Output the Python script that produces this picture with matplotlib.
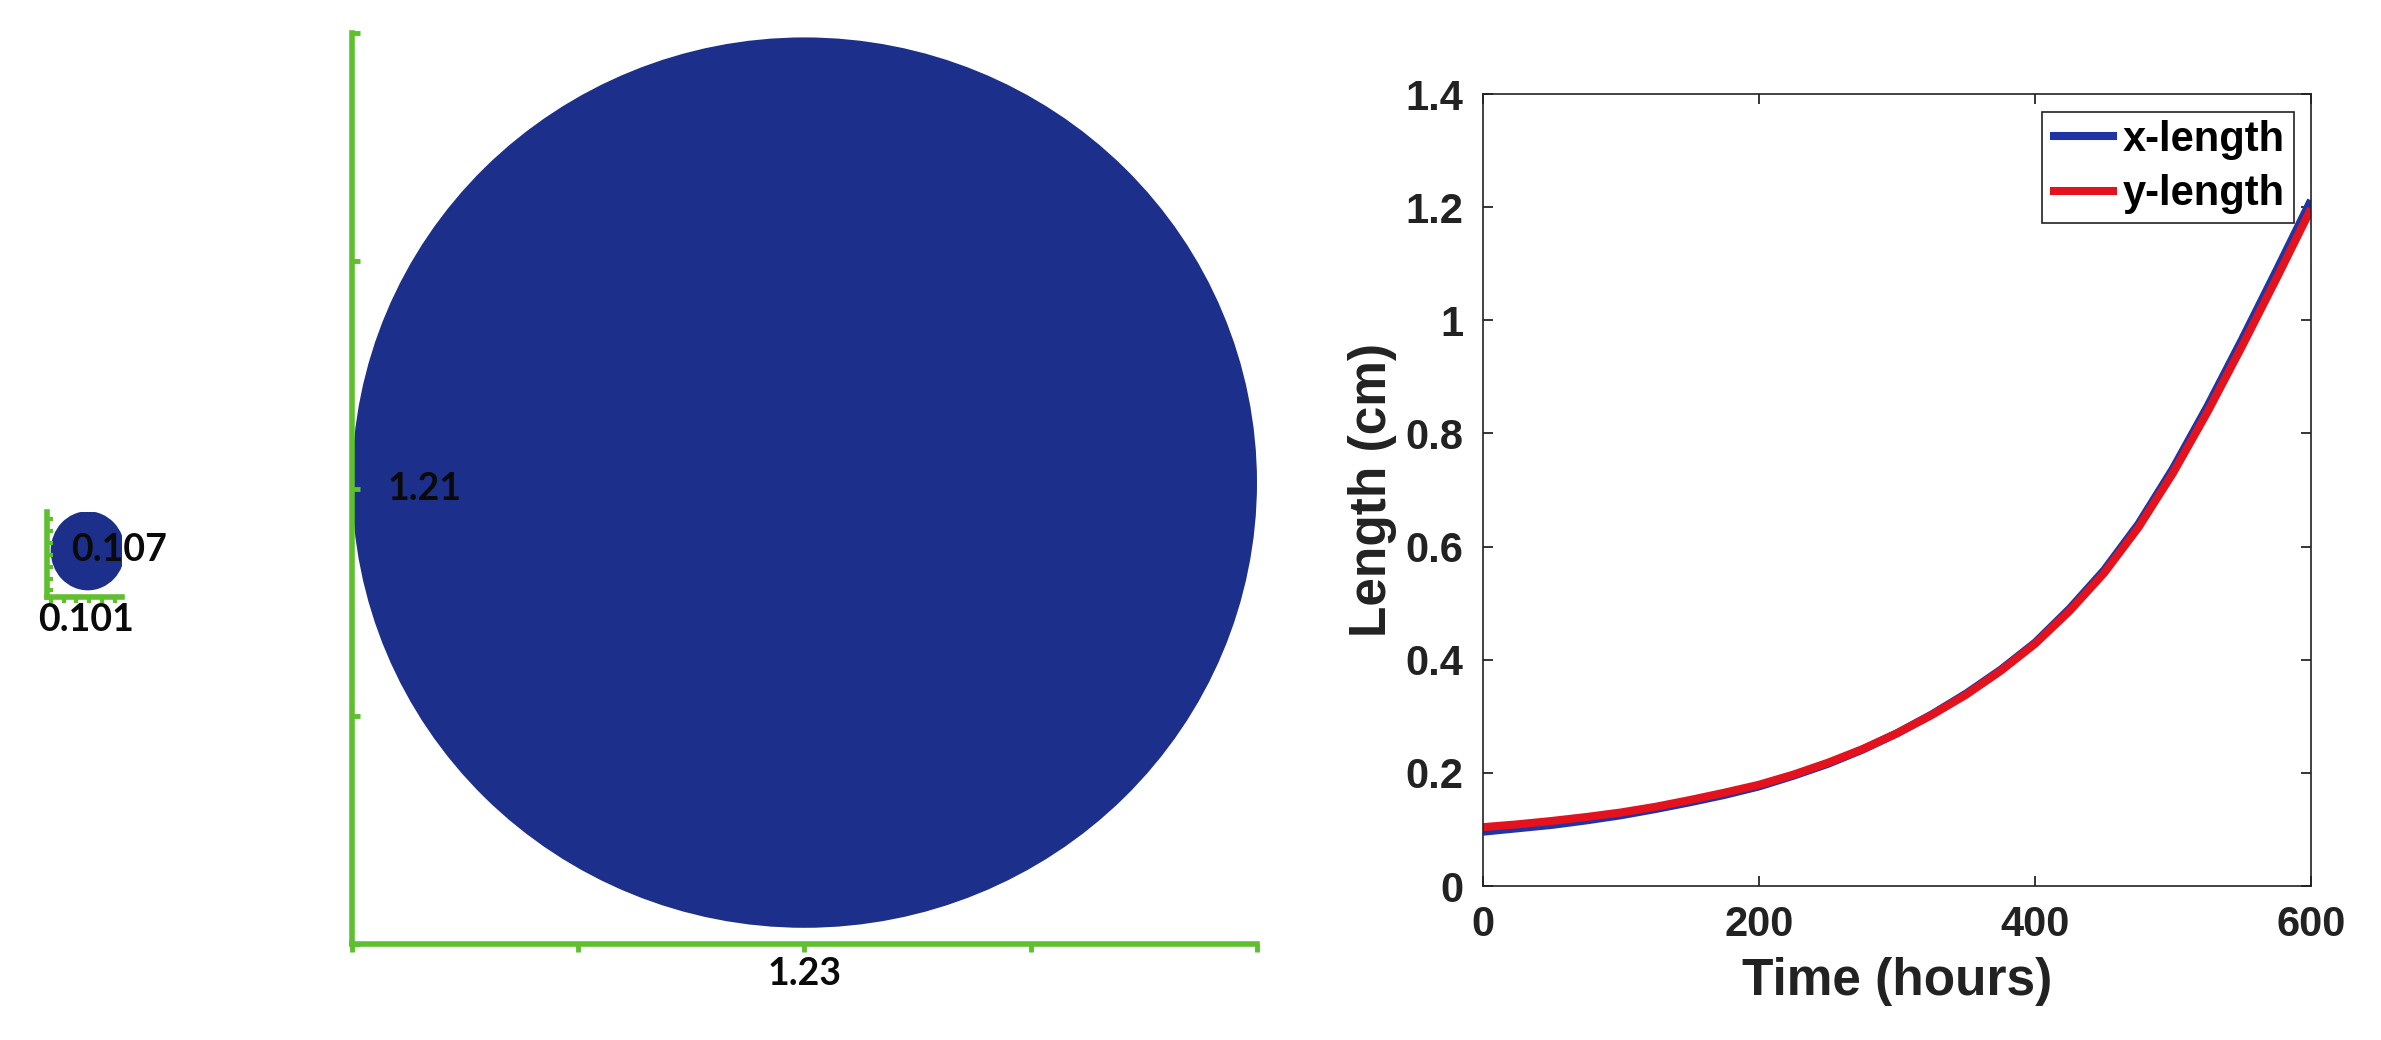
import numpy as np
import matplotlib
matplotlib.use("Agg")
import matplotlib.pyplot as plt
from matplotlib.patches import Ellipse

# blob sizes (cm): start and end of growth
start_x, start_y = 0.101, 0.107
end_x, end_y = 1.23, 1.21

# growth curves
hours = [0, 25, 50, 75, 100, 125, 150, 175, 200, 225, 250, 275, 300,
         325, 350, 375, 400, 425, 450, 475, 500, 525, 550, 575, 600]
x_length = [0.096, 0.102, 0.108, 0.116, 0.125, 0.136, 0.148, 0.161, 0.176,
            0.195, 0.216, 0.241, 0.270, 0.303, 0.340, 0.382, 0.430, 0.490,
            0.558, 0.640, 0.738, 0.848, 0.966, 1.088, 1.212]
y_length = [0.104, 0.109, 0.115, 0.122, 0.130, 0.140, 0.152, 0.165, 0.179,
            0.197, 0.218, 0.242, 0.270, 0.302, 0.338, 0.380, 0.428, 0.486,
            0.553, 0.634, 0.730, 0.838, 0.954, 1.074, 1.197]
xticks = [0, 200, 400, 600]
yticks = [0, 0.2, 0.4, 0.6, 0.8, 1.0, 1.2, 1.4]
ytick_labels = ["0", "0.2", "0.4", "0.6", "0.8", "1", "1.2", "1.4"]

W, H = 2381, 1040
BLOB = "#1c2f8a"
GREEN = "#5ec02e"
lab_font = dict(family=["Lato", "DejaVu Sans"], fontsize=27, color="#0a0a0a",
                weight="bold")

fig = plt.figure(figsize=(W / 100, H / 100), dpi=100)


def px_axes(left, top, right, bottom):
    return fig.add_axes([left / W, 1 - bottom / H, (right - left) / W, (bottom - top) / H])


def green_frame(ax, xt, yt, tlen, tw):
    for s in ["top", "right"]:
        ax.spines[s].set_visible(False)
    for s in ["left", "bottom"]:
        ax.spines[s].set_color(GREEN)
        ax.spines[s].set_linewidth(4)
    ax.set_xticks(xt)
    ax.set_yticks(yt)
    ax.tick_params(axis="x", direction="out", length=tlen, width=tw, color=GREEN,
                   labelbottom=False)
    ax.tick_params(axis="y", direction="in", length=tlen, width=tw, color=GREEN,
                   labelleft=False)
    ax.patch.set_alpha(0)


# big blob (end state)
ax1 = px_axes(352, 33, 1257, 944)
ax1.set_xlim(0, end_x)
ax1.set_ylim(-0.022, end_y + 0.006)
ax1.add_patch(Ellipse((end_x / 2, end_y / 2), end_x, end_y, color=BLOB, lw=0))
green_frame(ax1, np.linspace(0, end_x, 5), np.linspace(*ax1.get_ylim(), 5), 6, 3.5)
ax1.annotate(f"{end_y:g}", xy=(0, 0.5), xycoords="axes fraction", xytext=(36, 0),
             textcoords="offset pixels", ha="left", va="center", **lab_font)
ax1.annotate(f"{end_x:g}", xy=(0.5, 0), xycoords="axes fraction", xytext=(0, -30),
             textcoords="offset pixels", ha="center", va="center", **lab_font)

# small blob (start state)
ax0 = px_axes(47, 512, 122, 597)
ax0.set_xlim(-0.005, 0.097)
ax0.set_ylim(-0.009, 0.106)
ax0.add_patch(Ellipse((start_x / 2, start_y / 2), start_x, start_y, color=BLOB, lw=0))
green_frame(ax0, np.arange(0.0, 0.1, 0.0175), np.arange(0.0, 0.1, 0.016), 4, 3)
ax0.annotate(f"{start_y:g}", xy=(0, 0), xycoords="axes fraction", xytext=(24, 47),
             textcoords="offset pixels", ha="left", va="center", **lab_font)
ax0.annotate(f"{start_x:g}", xy=(0, 0), xycoords="axes fraction", xytext=(-9, -23),
             textcoords="offset pixels", ha="left", va="center", **lab_font)

# growth curves
bold = dict(family=["Liberation Sans", "DejaVu Sans"], weight="bold")
ax2 = px_axes(1483, 94, 2311, 886)
ax2.plot(hours, x_length, color="#1f35a5", lw=5.8, label="x-length", solid_capstyle="butt")
ax2.plot(hours, y_length, color="#e4121c", lw=5.8, label="y-length", solid_capstyle="butt")
ax2.set_xlim(0, 600)
ax2.set_ylim(0, 1.4)
ax2.set_xticks(xticks)
ax2.set_yticks(yticks)
ax2.set_yticklabels(ytick_labels)
ax2.tick_params(direction="in", length=7, width=1.1, top=True, right=True,
                labelsize=30, pad=14)
for lab in ax2.get_xticklabels() + ax2.get_yticklabels():
    lab.set_fontfamily(bold["family"])
    lab.set_fontweight("bold")
    lab.set_color("#222222")
for s in ax2.spines.values():
    s.set_linewidth(1.2)
    s.set_color("#222222")
ax2.set_xlabel("Time (hours)", fontsize=37, labelpad=8, color="#222222", **bold)
ax2.set_ylabel("Length (cm)", fontsize=37, labelpad=6, color="#222222", **bold)
leg = ax2.legend(loc="upper right", prop=dict(size=30, **bold), fancybox=False,
                 edgecolor="#222222", framealpha=1, handlelength=1.6,
                 handletextpad=0.15, borderpad=0.2, labelspacing=0.35,
                 borderaxespad=0.42)
leg.get_frame().set_linewidth(1.2)

fig.savefig("out.png", dpi=100)
